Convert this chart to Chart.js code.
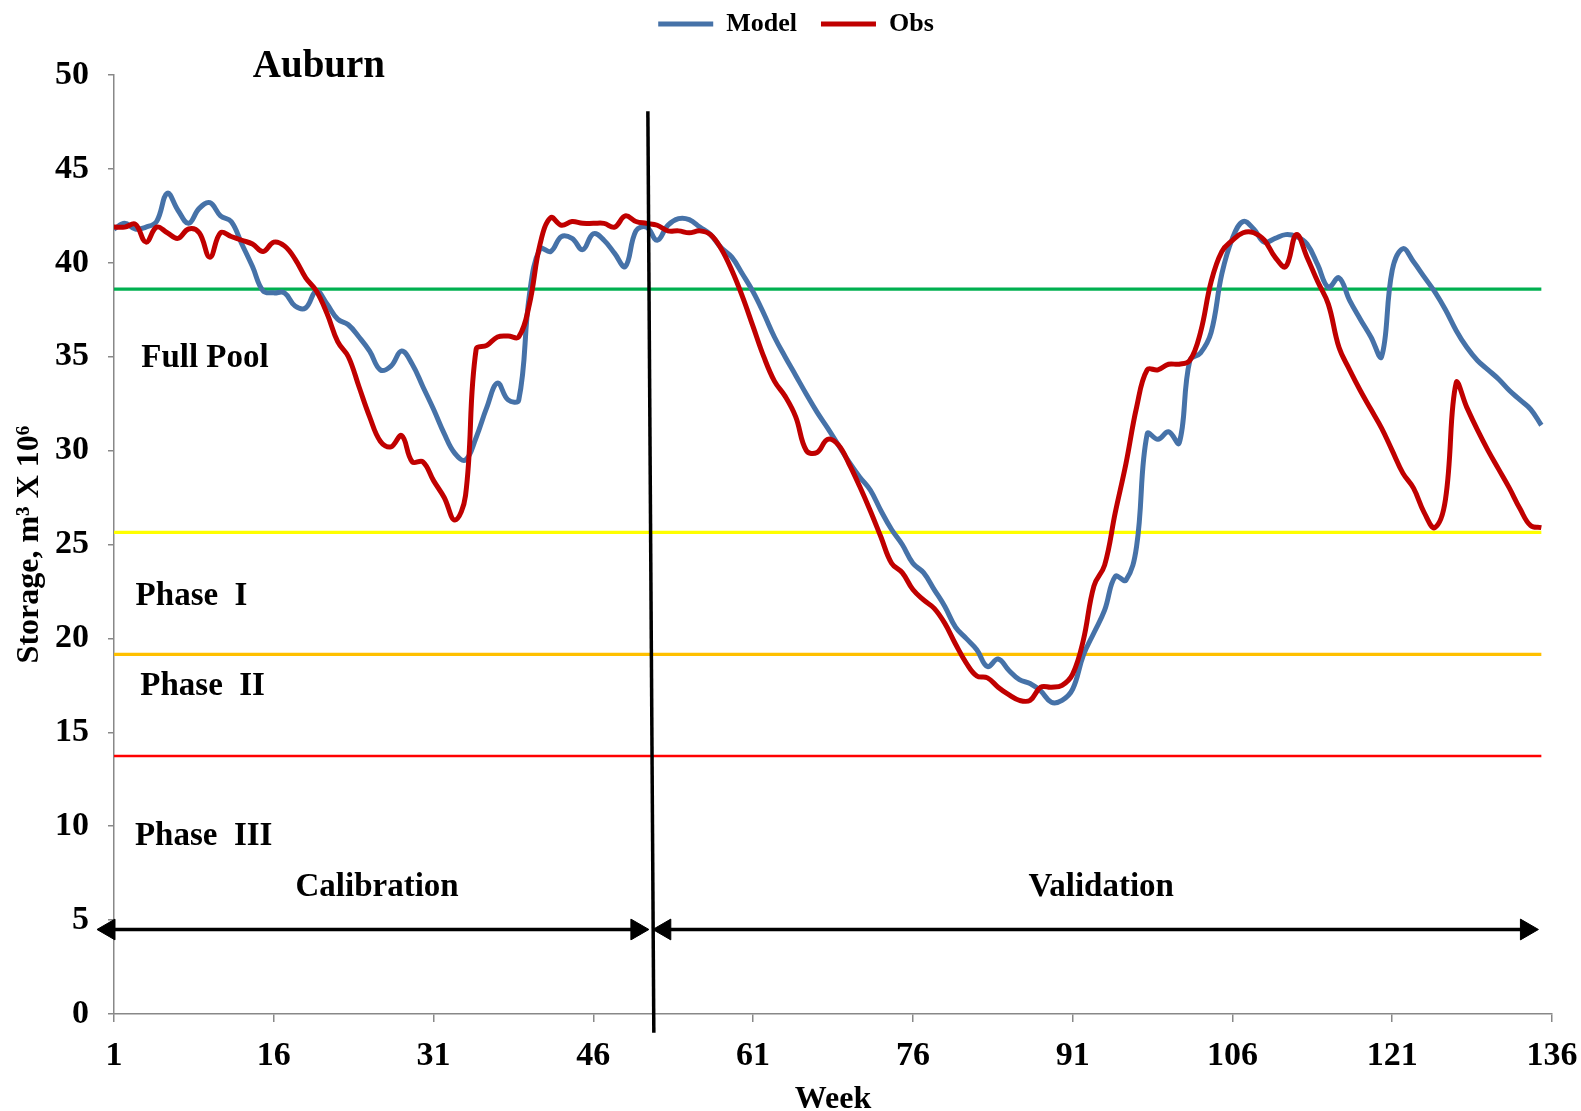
<!DOCTYPE html>
<html><head><meta charset="utf-8">
<script src="https://cdn.jsdelivr.net/npm/chart.js@4.4.1/dist/chart.umd.min.js"></script>
<style>html,body{margin:0;padding:0;background:#fff;}#wrap{width:1581px;height:1111px;}</style>
</head><body><div id="wrap"><canvas id="c" width="1581" height="1111"></canvas></div>
<script>
// ---- data (storage, m3 x 10^6, weekly) ----
const model = [
41.8,42.1,41.8,41.9,42.2,43.7,42.8,42.1,42.9,43.2,
42.5,42.2,41.0,39.8,38.5,38.4,38.4,37.7,37.6,38.5,
37.8,37.0,36.7,36.05,35.3,34.3,34.5,35.3,34.6,33.4,
32.2,30.9,29.85,29.5,30.7,32.3,33.6,32.7,32.7,38.3,
40.75,40.6,41.4,41.3,40.7,41.55,41.2,40.5,39.8,41.7,
41.9,41.2,42.0,42.35,42.3,41.9,41.5,40.8,40.3,39.4,
38.45,37.3,36.05,35.0,34.0,33.0,32.05,31.2,30.3,29.4,
28.6,27.9,26.8,25.8,25.0,24.0,23.5,22.6,21.7,20.6,
20.0,19.4,18.5,18.9,18.3,17.8,17.6,17.2,16.6,16.7,
17.3,19.1,20.3,21.5,23.3,23.1,24.9,30.9,30.6,31.0,
30.4,34.8,35.2,36.3,39.4,41.3,42.2,41.8,41.1,41.3,
41.5,41.4,41.0,39.9,38.7,39.2,38.0,37.0,36.05,35.0,
39.6,40.75,40.05,39.25,38.45,37.5,36.4,35.5,34.8,34.3,
33.8,33.2,32.7,32.2,31.35];
const obs = [
41.9,41.9,42.05,41.1,41.9,41.6,41.3,41.8,41.6,40.3,
41.6,41.4,41.2,41.0,40.6,41.1,40.9,40.2,39.2,38.5,
37.3,35.8,35.0,33.4,31.8,30.5,30.2,30.8,29.4,29.4,
28.4,27.5,26.3,27.6,35.4,35.6,36.05,36.1,36.05,37.8,
41.0,42.4,42.0,42.2,42.1,42.1,42.1,41.9,42.5,42.2,
42.1,42.0,41.7,41.7,41.6,41.7,41.5,40.75,39.6,38.2,
36.6,35.0,33.7,32.9,31.8,30.0,29.9,30.6,30.3,29.3,
28.1,26.8,25.4,24.0,23.5,22.6,22.05,21.6,20.8,19.7,
18.7,18.0,17.9,17.4,17.0,16.7,16.7,17.4,17.4,17.5,
18.1,19.9,22.8,23.9,26.7,29.3,32.3,34.3,34.3,34.6,
34.6,34.8,36.3,39.0,40.6,41.2,41.6,41.6,41.2,40.3,
39.8,41.5,40.3,39.0,37.8,35.5,34.3,33.2,32.2,31.2,
30.0,28.8,28.0,26.7,25.9,27.4,33.6,32.3,31.1,30.0,
29.0,28.0,26.9,26.0,25.9];
const xTickValues = [1,16,31,46,61,76,91,106,121,136];
const levelNames = ['Full pool','Phase I','Phase II','Phase III'];
const levelValues = [38.6,25.65,19.15,13.74];
const levelSpan = [1,135];
const separatorX = [51.12,51.68];
const separatorY = [48.07,-1.0];
const calArrowX = [0.53,50.09];
const valArrowX = [52.71,133.6];
const arrowY = [4.5,4.5];
const noteTexts = ['Auburn','Full Pool','Phase  I','Phase  II','Phase  III','Calibration','Validation'];
const noteX = [20.24,9.54,8.28,9.32,9.42,25.7,93.68];
const noteY = [50.43,34.92,22.21,17.44,9.44,6.72,6.72];

// ---- build ----
const toXY = arr => arr.map((v,i)=>({x:i+1,y:v}));
const levelColors = ['#00B050','#FFFF00','#FFC000','#FF0000'];
const levelWidths = [3.2,3.2,3.2,2.6];
const FONT = '"Liberation Serif", "Times New Roman", serif';

const datasets = [
  {label:'Model',data:toXY(model),borderColor:'#4672A8',backgroundColor:'#4672A8',borderWidth:5,pointRadius:0,tension:0.4,order:4},
  {label:'Obs',data:toXY(obs),borderColor:'#C00000',backgroundColor:'#C00000',borderWidth:5,pointRadius:0,tension:0.4,order:3},
  {label:'separator',data:separatorX.map((x,i)=>({x,y:separatorY[i]})),borderColor:'#000',borderWidth:3.5,pointRadius:0,tension:0,clip:false,order:0},
  {label:'calArrow',data:calArrowX.map((x,i)=>({x,y:arrowY[i]})),borderColor:'#000',backgroundColor:'#000',borderWidth:3.5,pointStyle:'triangle',pointRadius:12,pointBorderWidth:1,pointRotation:[-90,90],tension:0,clip:false,order:1},
  {label:'valArrow',data:valArrowX.map((x,i)=>({x,y:arrowY[i]})),borderColor:'#000',backgroundColor:'#000',borderWidth:3.5,pointStyle:'triangle',pointRadius:12,pointBorderWidth:1,pointRotation:[-90,90],tension:0,clip:false,order:1}
];
levelValues.forEach((v,i)=>{
  datasets.push({label:levelNames[i],data:levelSpan.map(x=>({x,y:v})),borderColor:levelColors[i],borderWidth:levelWidths[i],pointRadius:0,tension:0,order:5});
});

const notesPlugin = {
  id:'notes',
  afterDatasetsDraw(chart){
    const {ctx,scales:{x,y}} = chart;
    ctx.save();
    ctx.fillStyle = '#000';
    ctx.textAlign = 'center';
    ctx.textBaseline = 'middle';
    noteTexts.forEach((t,i)=>{
      const size = i===0 ? 39 : 33;
      ctx.font = 'bold '+size+'px '+FONT;
      ctx.fillText(t, x.getPixelForValue(noteX[i]), y.getPixelForValue(noteY[i]));
    });
    ctx.restore();
  }
};
const legendSpacer = {
  id:'legendSpacer',
  afterInit(chart){
    const lg = chart.legend;
    const fit = lg.fit;
    lg.fit = function(){ fit.call(this); this.height = 75; };
    const draw = lg.draw;
    lg.draw = function(){
      const ctx = this.ctx;
      ctx.save(); ctx.translate(20,-13); draw.call(this); ctx.restore();
    };
  }
};

new Chart(document.getElementById('c'),{
  type:'line',
  data:{datasets},
  plugins:[notesPlugin,legendSpacer],
  options:{
    responsive:false,
    animation:false,
    devicePixelRatio:1,
    layout:{padding:{left:0,right:29,top:0,bottom:0}},
    plugins:{
      tooltip:{enabled:false},
      legend:{
        position:'top',
        labels:{
          font:{family:FONT,weight:'bold',size:26},
          color:'#000',
          padding:24,
          usePointStyle:true,
          pointStyle:'line',
          pointStyleWidth:55,
          filter:(item)=>item.text==='Model'||item.text==='Obs',
          sort:(a,b)=>a.datasetIndex-b.datasetIndex
        }
      }
    },
    scales:{
      x:{
        type:'linear',min:1,max:136,
        afterBuildTicks:(s)=>{ s.ticks = xTickValues.map(v=>({value:v})); },
        afterFit:(s)=>{ s.height = 97; s.paddingLeft = 0; s.paddingRight = 0; },
        ticks:{font:{family:FONT,weight:'bold',size:34},color:'#000',padding:14,maxRotation:0,autoSkip:false},
        grid:{drawOnChartArea:false,tickLength:8,color:'#888',lineWidth:1.5},
        border:{color:'#888',width:1.5},
        title:{display:true,text:'Week',font:{family:FONT,weight:'bold',size:32,lineHeight:0.69},color:'#000',padding:{top:0,bottom:0}}
      },
      y:{
        min:0,max:50,
        afterFit:(s)=>{ s.width = 114; s.paddingTop = 0; s.paddingBottom = 0; },
        ticks:{stepSize:5,font:{family:FONT,weight:'bold',size:34},color:'#000',padding:19},
        grid:{drawOnChartArea:false,tickLength:6,color:'#888',lineWidth:1.5},
        border:{color:'#888',width:1.5},
        title:{display:true,text:'Storage, m³ X 10⁶',font:{family:FONT,weight:'bold',size:32,lineHeight:1.2},color:'#000',padding:{top:11,bottom:0}}
      }
    }
  }
});
</script></body></html>
